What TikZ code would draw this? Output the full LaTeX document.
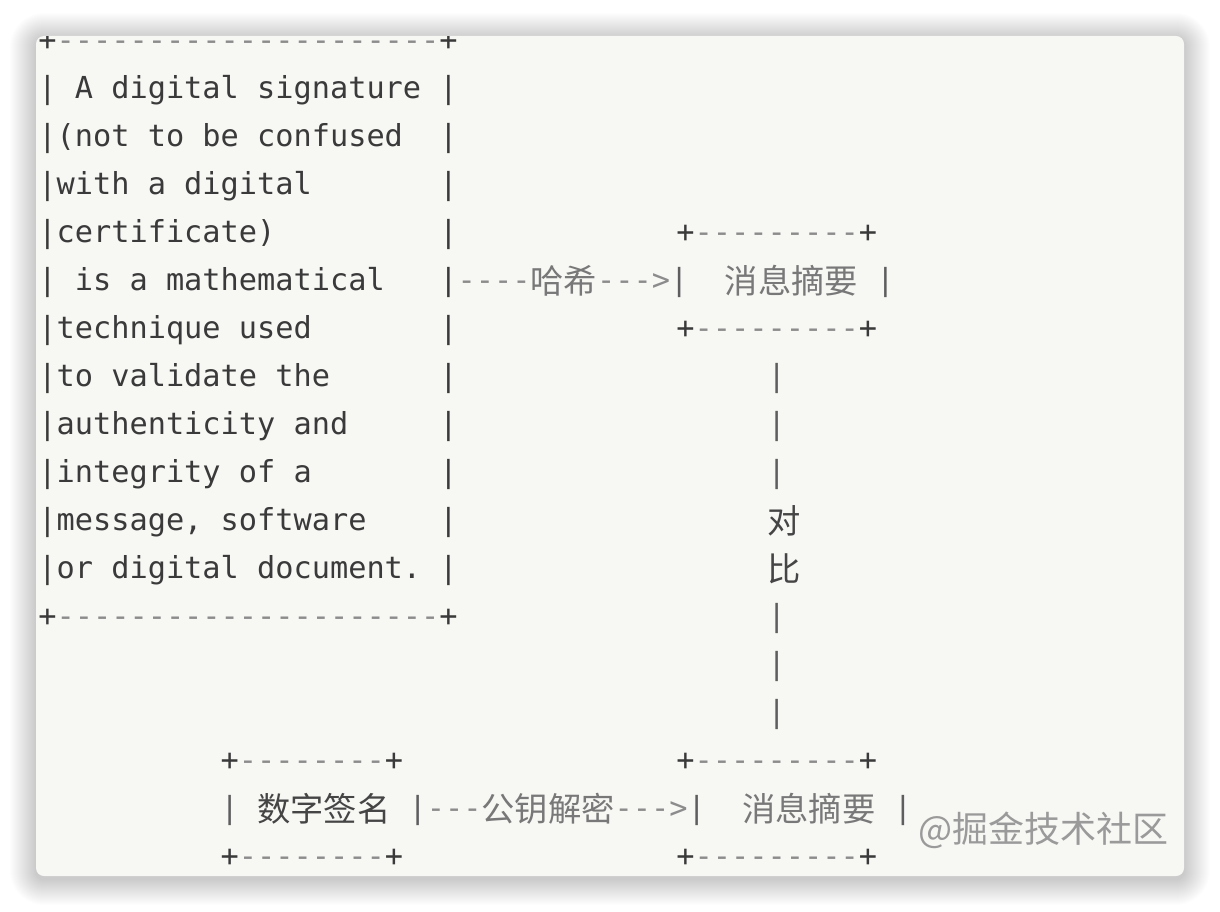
\documentclass[tikz,border=0pt]{standalone}
\usepackage{fontspec}
\setmonofont{DejaVu Sans Mono}
\newfontfamily\cjkf{Noto Sans CJK SC}
\definecolor{panel}{HTML}{F7F8F4}
\definecolor{txt}{HTML}{3A3A3A}
\definecolor{dsh}{HTML}{8C8C8C}
\definecolor{vbar}{HTML}{5E5E5E}
\definecolor{zhl}{HTML}{787878}
\definecolor{zhd}{HTML}{454545}
\definecolor{wm}{HTML}{9A9A9A}
\newcommand\spc[1]{\hspace*{#1\fontdimen2\font}}
\newcommand\dd[1]{\textcolor{dsh}{#1}}
\newcommand\vb{\textcolor{vbar}{|}}
\newcommand\zh[2]{\raisebox{-3pt}{\textcolor{#1}{\fontsize{33.3pt}{40pt}\cjkf #2}}}
\tikzset{
  asciirow/.style={anchor=base west, inner sep=0pt, outer sep=0pt,
    font=\ttfamily\fontsize{30.28pt}{48pt}\selectfont\frenchspacing, text=txt},
  watermark/.style={anchor=base west, inner sep=0pt, text=wm,
    font=\fontsize{36pt}{40pt}\cjkf}
}
\begin{document}
\begin{tikzpicture}[x=1pt,y=-1pt]
\useasboundingbox (0,0) rectangle (1220,912);
\fill[white] (0,0) rectangle (1220,912);
% soft shadow
\foreach \i in {1,...,26}{
  \pgfmathsetmacro\rr{8+\i}
  \fill[black, opacity=0.0085, rounded corners=\rr pt]
    (36-\i,36-\i+3) rectangle (1184+\i,876+\i+3);
}
\fill[panel, rounded corners=8pt] (36,36) rectangle (1184,876);
\begin{scope}
\clip[rounded corners=8pt] (36,36) rectangle (1184,876);
\node[asciirow] (r0) at (38.4,50.5) {+\dd{---------------------}+};
\node[asciirow] (r1) at (38.4,98.5) {| A digital signature |};
\node[asciirow] (r2) at (38.4,146.5) {|(not to be confused\spc{2}|};
\node[asciirow] (r3) at (38.4,194.5) {|with a digital\spc{7}|};
\node[asciirow] (r4) at (38.4,242.5) {|certificate)\spc{9}|\spc{12}+\dd{---------}+};
\node[asciirow] (r5) at (38.4,290.5) {| is a mathematical\spc{3}|\dd{----}\zh{zhl}{哈希}\dd{--->}\vb\spc{2}\zh{zhl}{消息摘要}\spc{1}\vb};
\node[asciirow] (r6) at (38.4,338.5) {|technique used\spc{7}|\spc{12}+\dd{---------}+};
\node[asciirow] (r7) at (38.4,386.5) {|to validate the\spc{6}|\spc{17}\vb};
\node[asciirow] (r8) at (38.4,434.5) {|authenticity and\spc{5}|\spc{17}\vb};
\node[asciirow] (r9) at (38.4,482.5) {|integrity of a\spc{7}|\spc{17}\vb};
\node[asciirow] (r10) at (38.4,530.5) {|message, software\spc{4}|\spc{17}\zh{zhd}{对}};
\node[asciirow] (r11) at (38.4,578.5) {|or digital document.\spc{1}|\spc{17}\zh{zhd}{比}};
\node[asciirow] (r12) at (38.4,626.5) {+\dd{---------------------}+\spc{17}\vb};
\node[asciirow] (r13) at (38.4,674.5) {\spc{40}\vb};
\node[asciirow] (r14) at (38.4,722.5) {\spc{40}\vb};
\node[asciirow] (r15) at (38.4,770.5) {\spc{10}+\dd{--------}+\spc{15}+\dd{---------}+};
\node[asciirow] (r16) at (38.4,818.5) {\spc{10}\vb\spc{1}\zh{zhd}{数字签名}\spc{1}\vb\dd{---}\zh{zhl}{公钥解密}\dd{--->}\vb\spc{2}\zh{zhl}{消息摘要}\spc{1}\vb};
\node[asciirow] (r17) at (38.4,866.5) {\spc{10}+\dd{--------}+\spc{15}+\dd{---------}+};
\node[watermark] (wm) at (918,842) {@掘金技术社区};
\end{scope}
\end{tikzpicture}
\end{document}
